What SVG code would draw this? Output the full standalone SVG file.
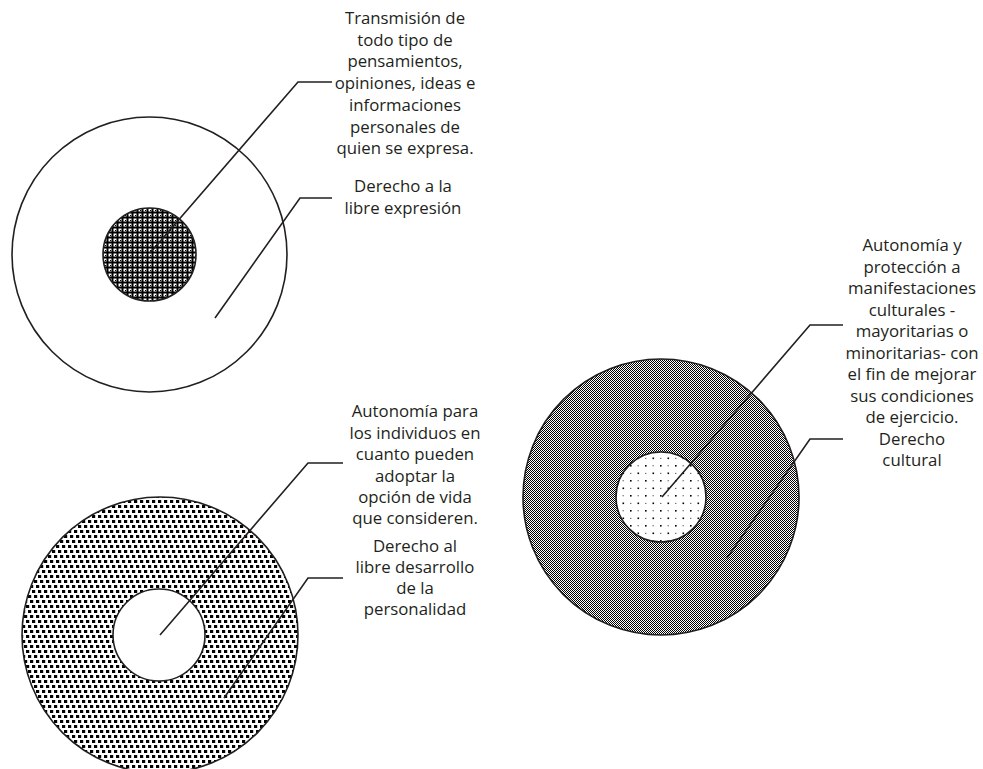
<svg xmlns="http://www.w3.org/2000/svg" width="983" height="769" viewBox="0 0 983 769">
<style>
.ring{stroke:#231f20;stroke-width:1.6}
.lead{fill:none;stroke:#231f20;stroke-width:1.6}
.t{font-family:"Open Sans","Liberation Sans",sans-serif;font-size:16.8px;fill:#231f20;text-anchor:middle}
</style>
<defs>
<pattern id="pDark" width="5" height="5" patternUnits="userSpaceOnUse">
<rect width="5" height="5" fill="#fff"/>
<rect x="0" y="1.5" width="5" height="2" fill="#000"/>
<rect x="1.5" y="0" width="2" height="5" fill="#000"/>
<rect x="0" y="0" width="1" height="1" fill="#000"/>
</pattern>
<pattern id="pBlocks" width="6" height="15" patternUnits="userSpaceOnUse">
<rect width="6" height="15" fill="#fff"/>
<rect x="0" y="0" width="3.2" height="3" fill="#000"/>
<rect x="2" y="5" width="3.2" height="3" fill="#000"/>
<rect x="4" y="10" width="3.2" height="3" fill="#000"/>
<rect x="-2" y="10" width="3.2" height="3" fill="#000"/>
</pattern>
<pattern id="pCheck" width="2" height="2" patternUnits="userSpaceOnUse">
<rect width="2" height="2" fill="#fff"/>
<rect x="0" y="0" width="1" height="1" fill="#000"/>
<rect x="1" y="1" width="1" height="1" fill="#000"/>
</pattern>
<pattern id="pDots" width="15" height="15" patternUnits="userSpaceOnUse">
<rect width="15" height="15" fill="#fff"/>
<rect x="0" y="0" width="1.6" height="1.6" fill="#000"/>
<rect x="7.5" y="7.5" width="1.6" height="1.6" fill="#000"/>
<rect x="7.5" y="0.4" width="1.4" height="0.8" fill="#333"/>
<rect x="0" y="7.9" width="1.4" height="0.8" fill="#333"/>
</pattern>
</defs>
<rect width="983" height="769" fill="#fff"/>

<g id="circulo-libre-expresion">
<circle class="ring" cx="149.5" cy="254.5" r="137.5" fill="#fff"/>
<circle class="ring" cx="149.5" cy="254.5" r="46.5" fill="url(#pDark)"/>
</g>
<g id="circulo-libre-desarrollo">
<circle class="ring" cx="160" cy="635" r="138" fill="url(#pBlocks)"/>
<circle class="ring" cx="159" cy="635" r="46" fill="#fff"/>
</g>
<g id="circulo-cultural">
<circle class="ring" cx="661" cy="497" r="138" fill="url(#pCheck)"/>
<circle class="ring" cx="661" cy="497" r="45" fill="url(#pDots)"/>
</g>

<g id="connectors">
<polyline class="lead" points="150,253 298,82 332,82"/>
<polyline class="lead" points="215,318 300,198 332,198"/>
<polyline class="lead" points="160,635 308,463 343,463"/>
<polyline class="lead" points="224,698 308,578 343,578"/>
<polyline class="lead" points="662,497 810,325 843,325"/>
<polyline class="lead" points="727,558 810,439 843,439"/>
</g>

<g id="label-transmision">
<text class="t" x="405" y="24">Transmisión de</text>
<text class="t" x="405" y="45.7">todo tipo de</text>
<text class="t" x="405" y="67.4">pensamientos,</text>
<text class="t" x="405" y="89.1">opiniones, ideas e</text>
<text class="t" x="405" y="110.8">informaciones</text>
<text class="t" x="405" y="132.5">personales de</text>
<text class="t" x="405" y="154.2">quien se expresa.</text>
</g>
<g id="label-libre-expresion">
<text class="t" x="403" y="192">Derecho a la</text>
<text class="t" x="403" y="213.5">libre expresión</text>
</g>
<g id="label-autonomia-individuos">
<text class="t" x="415" y="417">Autonomía para</text>
<text class="t" x="415" y="438.5">los individuos en</text>
<text class="t" x="415" y="460">cuanto pueden</text>
<text class="t" x="415" y="481.5">adoptar la</text>
<text class="t" x="415" y="503">opción de vida</text>
<text class="t" x="415" y="524">que consideren.</text>
</g>
<g id="label-libre-desarrollo">
<text class="t" x="415" y="552">Derecho al</text>
<text class="t" x="415" y="573">libre desarrollo</text>
<text class="t" x="415" y="594">de la</text>
<text class="t" x="415" y="615">personalidad</text>
</g>
<g id="label-autonomia-cultural">
<text class="t" x="912" y="251">Autonomía y</text>
<text class="t" x="912" y="272.5">protección a</text>
<text class="t" x="912" y="294">manifestaciones</text>
<text class="t" x="912" y="315.5">culturales -</text>
<text class="t" x="912" y="337">mayoritarias o</text>
<text class="t" x="912" y="358.5">minoritarias- con</text>
<text class="t" x="912" y="380">el fin de mejorar</text>
<text class="t" x="912" y="401.5">sus condiciones</text>
<text class="t" x="912" y="423">de ejercicio.</text>
</g>
<g id="label-derecho-cultural">
<text class="t" x="912" y="444.5">Derecho</text>
<text class="t" x="912" y="466">cultural</text>
</g>
</svg>
